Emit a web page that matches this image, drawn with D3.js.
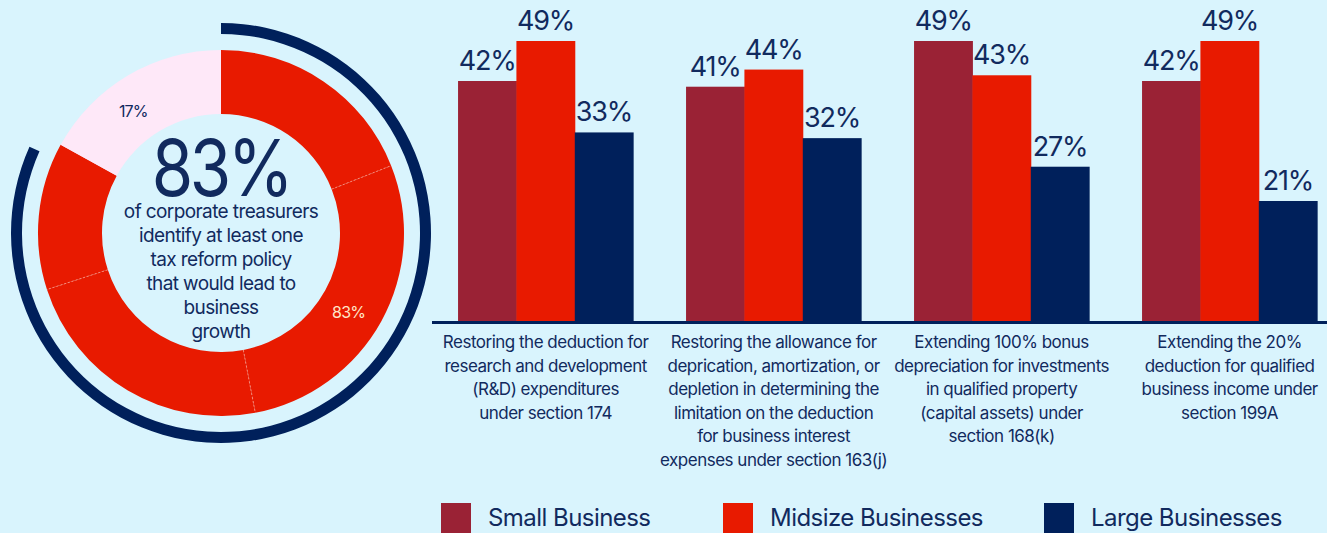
<!DOCTYPE html>
<html>
<head>
<meta charset="utf-8">
<script src="https://cdn.jsdelivr.net/npm/d3@7"></script>
<style>
  html, body { margin: 0; padding: 0; background: #d9f4fd; }
  svg { display: block; font-family: Inter, 'Noto Sans', sans-serif; }
</style>
</head>
<body>
<svg id="viz" width="1327" height="533"></svg>
<script>
/* Data */

const categories = [
  ['Restoring the deduction for', 'research and development', '(R&D) expenditures', 'under section 174'],
  ['Restoring the allowance for', 'deprication, amortization, or', 'depletion in determining the', 'limitation on the deduction', 'for business interest', 'expenses under section 163(j)'],
  ['Extending 100% bonus', 'depreciation for investments', 'in qualified property', '(capital assets) under', 'section 168(k)'],
  ['Extending the 20%', 'deduction for qualified', 'business income under', 'section 199A']
];
const seriesNames = ['Small Business', 'Midsize Businesses', 'Large Businesses'];
const smallValues = [42, 41, 49, 42];
const midsizeValues = [49, 44, 43, 49];
const largeValues = [33, 32, 27, 21];

// donut: four red pieces make up the 83%, the rest is 17%
const donutValues = [19, 28, 23, 13, 17];
const donutLabels = ['', '83%', '', '', '17%'];
const headline = '83%';
const headlineLines = ['of corporate treasurers', 'identify at least one', 'tax reform policy', 'that would lead to', 'business', 'growth'];

/* Visualization */

const navy = '#00205b';
const textColor = '#112a5e';
const colors = d3.scaleOrdinal().domain(seriesNames).range(['#9a2235', '#e81a00', navy]);

const svg = d3.select('#viz');

// ---- donut ----

const cx = 221;
const cy = 233;
const donut = svg.append('g').attr('transform', 'translate(' + cx + ',' + cy + ')');

const pie = d3.pie().sort(null).value((d) => d);
const slices = pie(donutValues);
const arc = d3.arc().innerRadius(119).outerRadius(183);
const last = donutValues.length - 1;

donut
  .selectAll('path.slice')
  .data(slices)
  .join('path')
  .attr('class', 'slice')
  .attr('fill', (d, i) => (i === last ? '#fee8f8' : '#e81a00'))
  .attr('d', arc);

// faint dashed separators between the red pieces
donut
  .selectAll('line.sep')
  .data(slices.slice(1, last))
  .join('line')
  .attr('class', 'sep')
  .attr('x1', (d) => 119 * Math.sin(d.startAngle))
  .attr('y1', (d) => -119 * Math.cos(d.startAngle))
  .attr('x2', (d) => 183 * Math.sin(d.startAngle))
  .attr('y2', (d) => -183 * Math.cos(d.startAngle))
  .attr('stroke', '#f68a78')
  .attr('stroke-width', 1)
  .attr('stroke-dasharray', '2,2');

// outer navy ring for the 83%
const total = d3.sum(donutValues);
const share = d3.sum(donutValues.slice(0, last));
donut
  .append('path')
  .attr('fill', navy)
  .attr('d', d3.arc()({ innerRadius: 199, outerRadius: 210, startAngle: 0, endAngle: (2 * Math.PI * share) / total - 0.08 }));

// slice labels (nudged a little the way the original sits)
donut
  .selectAll('text.slice-label')
  .data(slices.filter((d, i) => donutLabels[i]))
  .join('text')
  .attr('class', 'slice-label')
  .attr('transform', (d) => {
    const mid = (d.startAngle + d.endAngle) / 2 + (d.index === last ? -0.09 : 0.05);
    return 'translate(' + 150 * Math.sin(mid) + ',' + (-150 * Math.cos(mid) + 6) + ')';
  })
  .attr('text-anchor', 'middle')
  .attr('font-size', 16)
  .attr('letter-spacing', -0.8)
  .attr('fill', (d) => (d.index === last ? textColor : '#ffe6c8'))
  .text((d) => donutLabels[d.index]);

// center text, squeezed sideways like the narrow face of the original
donut
  .append('text')
  .attr('transform', 'translate(0,-37) scale(0.86,1)')
  .attr('text-anchor', 'middle')
  .attr('font-size', 78)
  .attr('letter-spacing', -4)
  .attr('fill', textColor)
  .text(headline);

donut
  .selectAll('text.line')
  .data(headlineLines)
  .join('text')
  .attr('class', 'line')
  .attr('y', (d, i) => -15 + i * 24)
  .attr('text-anchor', 'middle')
  .attr('font-size', 19)
  .attr('letter-spacing', -0.6)
  .attr('fill', textColor)
  .text((d) => d);

// ---- bars ----

const base = 321;

const xScale = d3
  .scaleBand()
  .domain(d3.range(categories.length))
  .range([431.6, 1343.6])
  .paddingInner(0.232)
  .paddingOuter(0.116);

const xSub = d3.scaleBand().domain(seriesNames).range([0, xScale.bandwidth()]);

const yScale = d3.scaleLinear().domain([0, 49]).range([base, base - 280]);

const table = categories.map((c, i) => ({
  index: i,
  values: [smallValues[i], midsizeValues[i], largeValues[i]].map((v, j) => ({ name: seriesNames[j], value: v }))
}));

const groups = svg
  .append('g')
  .selectAll('g')
  .data(table)
  .join('g')
  .attr('transform', (d) => 'translate(' + xScale(d.index) + ',0)');

groups
  .selectAll('rect')
  .data((d) => d.values)
  .join('rect')
  .attr('x', (d) => xSub(d.name))
  .attr('y', (d) => yScale(d.value))
  .attr('width', xSub.bandwidth() + 0.5)
  .attr('height', (d) => base - yScale(d.value))
  .attr('fill', (d) => colors(d.name));

groups
  .selectAll('text.value')
  .data((d) => d.values)
  .join('text')
  .attr('class', 'value')
  .attr('x', (d) => xSub(d.name) + xSub.bandwidth() / 2)
  .attr('y', (d) => yScale(d.value) - 11)
  .attr('text-anchor', 'middle')
  .attr('font-size', 27)
  .attr('letter-spacing', -1.2)
  .attr('fill', textColor)
  .text((d) => d.value + '%');

// baseline
svg
  .append('line')
  .attr('x1', 432)
  .attr('x2', 1327)
  .attr('y1', base + 1.5)
  .attr('y2', base + 1.5)
  .attr('stroke', navy)
  .attr('stroke-width', 3);

// category labels
groups
  .append('text')
  .attr('text-anchor', 'middle')
  .attr('font-size', 17)
  .attr('letter-spacing', -0.5)
  .attr('fill', textColor)
  .selectAll('tspan')
  .data((d) => categories[d.index].map((t) => ({ t: t, w: xScale.bandwidth() })))
  .join('tspan')
  .attr('x', (d) => d.w / 2)
  .attr('y', (d, i) => base + 27 + i * 23.5)
  .text((d) => d.t);

// ---- legend ----

const legendX = [441, 723, 1044];
const legend = svg
  .append('g')
  .selectAll('g')
  .data(seriesNames)
  .join('g')
  .attr('transform', (d, i) => 'translate(' + legendX[i] + ',503)');

legend.append('rect').attr('width', 30).attr('height', 30).attr('fill', (d) => colors(d));

legend
  .append('text')
  .attr('x', 47)
  .attr('y', 23)
  .attr('font-size', 24)
  .attr('letter-spacing', -0.55)
  .attr('fill', textColor)
  .text((d) => d);
</script>
</body>
</html>
